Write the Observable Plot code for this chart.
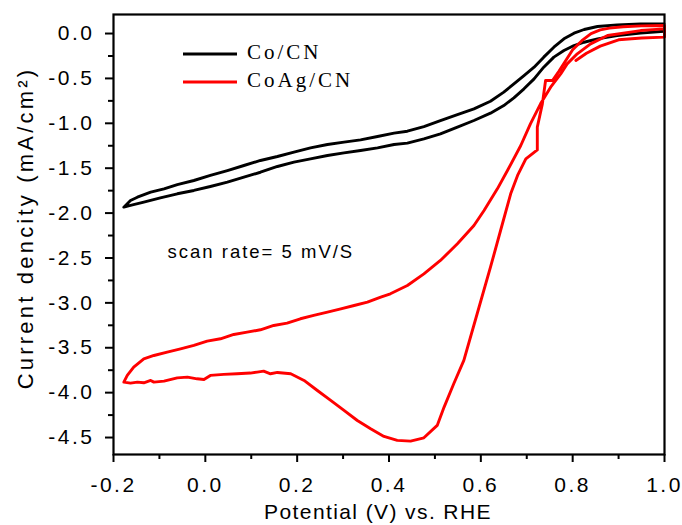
<!DOCTYPE html>
<html>
<head>
<meta charset="utf-8">
<script src="https://cdn.jsdelivr.net/npm/d3@7"></script>
<script src="https://cdn.jsdelivr.net/npm/@observablehq/plot@0.6"></script>
<style>
  html, body { margin: 0; padding: 0; background: #fff; }
  #chart { position: relative; width: 682px; height: 525px; }
</style>
</head>
<body>
<div id="chart"></div>
<script>
// ---- Data ----
const seriesNames = ["Co/CN", "CoAg/CN"];
const seriesColors = ["#000000", "#ff0000"];

const xMajorTicks = [-0.2, 0.0, 0.2, 0.4, 0.6, 0.8, 1.0];
const xMinorTicks = [-0.1, 0.1, 0.3, 0.5, 0.7, 0.9];
const yMajorTicks = [0.0, -0.5, -1.0, -1.5, -2.0, -2.5, -3.0, -3.5, -4.0, -4.5];
const yMinorTicks = [-0.25, -0.75, -1.25, -1.75, -2.25, -2.75, -3.25, -3.75, -4.25];

const xLabel = "Potential (V) vs. RHE";
const yLabel = "Current dencity (mA/cm²)";
const note = "scan rate= 5 mV/S";

// Co/CN loop: upper branch (right -> left), then lower branch (left -> right)
const coCN = [
  [0.999, 0.108], [0.948, 0.108], [0.897, 0.097], [0.854, 0.078], [0.825, 0.045],
  [0.803, 0.004], [0.781, -0.059], [0.759, -0.152], [0.737, -0.263], [0.716, -0.375],
  [0.694, -0.468], [0.672, -0.561], [0.650, -0.653], [0.621, -0.754], [0.585, -0.839],
  [0.549, -0.902], [0.512, -0.969], [0.476, -1.036], [0.440, -1.088], [0.411, -1.110],
  [0.375, -1.147], [0.338, -1.184], [0.302, -1.210], [0.266, -1.236], [0.229, -1.273],
  [0.193, -1.322], [0.157, -1.370], [0.120, -1.414], [0.084, -1.470], [0.048, -1.526],
  [0.011, -1.581], [-0.025, -1.637], [-0.061, -1.682], [-0.090, -1.730], [-0.119, -1.767],
  [-0.148, -1.823], [-0.163, -1.860], [-0.1775, -1.934],
  [-0.163, -1.915], [-0.134, -1.878], [-0.098, -1.830], [-0.061, -1.785], [-0.025, -1.748],
  [0.011, -1.704], [0.048, -1.656], [0.084, -1.600], [0.120, -1.545], [0.157, -1.481],
  [0.193, -1.433], [0.229, -1.396], [0.266, -1.359], [0.302, -1.329], [0.338, -1.303],
  [0.375, -1.273], [0.411, -1.236], [0.440, -1.221], [0.476, -1.173], [0.512, -1.117],
  [0.549, -1.043], [0.585, -0.969], [0.621, -0.887], [0.650, -0.802], [0.672, -0.716],
  [0.694, -0.616], [0.716, -0.505], [0.737, -0.375], [0.759, -0.263], [0.781, -0.189],
  [0.803, -0.134], [0.825, -0.097], [0.854, -0.059], [0.897, -0.022], [0.948, 0.004],
  [0.999, 0.026]
];

// CoAg/CN trace in scan order
const coAgCN = [
  [0.807, -0.300], [0.830, -0.220], [0.860, -0.140], [0.900, -0.070], [0.950, -0.050],
  [1.000, -0.040], [1.000, 0.090], [0.950, 0.085], [0.910, 0.075], [0.880, 0.060],
  [0.860, 0.040], [0.840, 0.000], [0.820, -0.080], [0.800, -0.180], [0.785, -0.300],
  [0.770, -0.420], [0.756, -0.523], [0.741, -0.523], [0.734, -0.783], [0.723, -1.043],
  [0.723, -1.296], [0.698, -1.396], [0.680, -1.581], [0.665, -1.785], [0.643, -2.194],
  [0.621, -2.603], [0.592, -3.121], [0.563, -3.641], [0.541, -3.901], [0.520, -4.161],
  [0.505, -4.365], [0.476, -4.503], [0.447, -4.540], [0.418, -4.532], [0.389, -4.488],
  [0.360, -4.402], [0.331, -4.310], [0.302, -4.198], [0.273, -4.087], [0.244, -3.976],
  [0.215, -3.864], [0.186, -3.790], [0.157, -3.775], [0.142, -3.790], [0.127, -3.760],
  [0.113, -3.771], [0.098, -3.782], [0.069, -3.790], [0.040, -3.797], [0.011, -3.808],
  [-0.003, -3.853], [-0.018, -3.846], [-0.039, -3.827], [-0.061, -3.835], [-0.090, -3.872],
  [-0.112, -3.883], [-0.119, -3.864], [-0.134, -3.890], [-0.148, -3.883], [-0.163, -3.894],
  [-0.1775, -3.883],
  [-0.170, -3.808], [-0.156, -3.716], [-0.134, -3.623], [-0.112, -3.586], [-0.083, -3.549],
  [-0.054, -3.512], [-0.025, -3.474], [0.004, -3.426], [0.033, -3.400], [0.062, -3.352],
  [0.091, -3.326], [0.120, -3.300], [0.149, -3.252], [0.178, -3.226], [0.207, -3.177],
  [0.236, -3.140], [0.266, -3.103], [0.295, -3.066], [0.324, -3.029], [0.353, -2.992],
  [0.382, -2.936], [0.403, -2.899], [0.440, -2.806], [0.476, -2.677], [0.512, -2.528],
  [0.549, -2.342], [0.585, -2.138], [0.607, -1.971], [0.636, -1.730], [0.658, -1.526],
  [0.687, -1.247], [0.708, -1.006], [0.730, -0.783], [0.752, -0.598], [0.774, -0.449],
  [0.788, -0.338], [0.810, -0.226], [0.839, -0.115], [0.876, -0.022], [0.948, 0.033],
  [0.999, 0.052]
];

// ---- Chart ----
const fmt = d => d3.format(".1f")(d).replace("\u2212", "-");
const series = [coCN, coAgCN];

const plot = Plot.plot({
  width: 682,
  height: 525,
  marginLeft: 113,
  marginRight: 18,
  marginTop: 14,
  marginBottom: 71,
  x: {domain: [-0.2, 1.0]},
  y: {domain: [-4.689, 0.212]},
  style: {fontFamily: "'Liberation Sans', Arial, sans-serif", background: "#fff", color: "#000"},
  marks: [
    Plot.axisX(xMajorTicks, {tickSize: 8, tickPadding: 15, strokeWidth: 2, fontSize: 21, tickFormat: fmt, label: null}),
    Plot.axisX(xMinorTicks, {tickSize: 5, strokeWidth: 2, tickFormat: () => "", label: null}),
    Plot.axisY(yMajorTicks, {tickSize: 8, tickPadding: 11, strokeWidth: 2, fontSize: 21, tickFormat: fmt, label: null}),
    Plot.axisY(yMinorTicks, {tickSize: 5, strokeWidth: 2, tickFormat: () => "", label: null}),
    ...series.map((s, i) => Plot.line(s, {x: d => d[0], y: d => d[1], stroke: seriesColors[i], strokeWidth: 2.9, strokeLinejoin: "round"})),
    Plot.frame({stroke: "#000", strokeWidth: 2.2}),
    Plot.text([note], {text: d => d, frameAnchor: "top-left", dx: 54, dy: 237.5, textAnchor: "start", lineAnchor: "middle", fontSize: 18.5}),
    Plot.text([xLabel], {text: d => d, frameAnchor: "bottom", dx: -11, dy: 58, textAnchor: "middle", lineAnchor: "middle", fontSize: 21}),
    Plot.text([yLabel], {text: d => d, frameAnchor: "left", rotate: -90, dx: -88, dy: -6.5, textAnchor: "middle", lineAnchor: "middle", fontSize: 22})
  ]
});

const svg = d3.select(plot);
svg.selectAll("text").style("letter-spacing", "2.5px");
svg.selectAll("text").filter(function() { return this.textContent === note; }).style("letter-spacing", "2px");
svg.selectAll("text").filter(function() { return this.textContent === xLabel; }).style("letter-spacing", "1.4px");
svg.selectAll("text").filter(function() { return this.textContent === yLabel; }).style("letter-spacing", "3.2px");

// Legend inside the plot area (top-left)
const legend = svg.append("g").attr("class", "legend").attr("text-anchor", "start");
const legendY = [54, 82];
seriesNames.forEach((name, i) => {
  legend.append("line")
    .attr("x1", 183).attr("x2", 237)
    .attr("y1", legendY[i]).attr("y2", legendY[i])
    .attr("stroke", seriesColors[i]).attr("stroke-width", 2.8);
  legend.append("text")
    .attr("x", 247).attr("y", legendY[i] + 5)
    .attr("text-anchor", "start")
    .attr("font-family", "'Liberation Serif', 'Times New Roman', serif")
    .attr("font-size", 21)
    .style("letter-spacing", "3px")
    .attr("fill", "#000")
    .text(name);
});

document.getElementById("chart").appendChild(plot);
</script>
</body>
</html>
